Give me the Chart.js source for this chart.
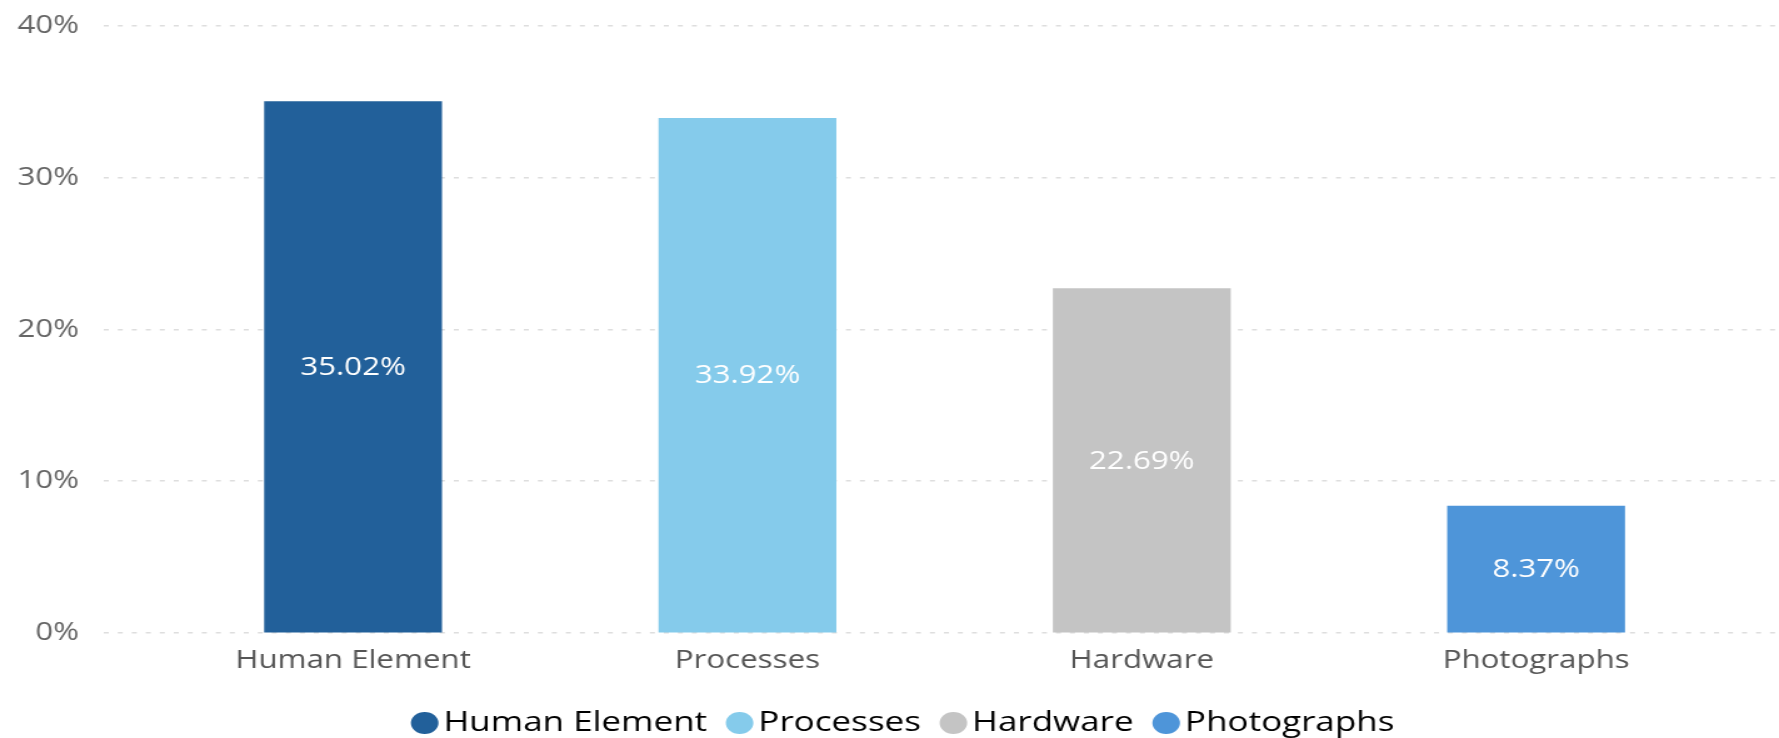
<!DOCTYPE html>
<html>
<head>
<meta charset="utf-8">
<script src="https://cdn.jsdelivr.net/npm/chart.js@4/dist/chart.umd.min.js"></script>
<style>
  html, body { margin: 0; padding: 0; background: #fff; overflow: hidden; }
  #wrap { width: 1423px; height: 738px; transform: scaleX(1.2502); transform-origin: 0 0; }
</style>
</head>
<body>
<div id="wrap"><canvas id="shareChart" width="1423" height="738"></canvas></div>
<script>
const categories = ['Human Element', 'Processes', 'Hardware', 'Photographs'];
const shares = [35.02, 33.92, 22.69, 8.37];
const barColors = ['#22609a', '#85cbeb', '#c4c4c4', '#4e95d9'];
const yMax = 40;
const yStep = 10;

document.addEventListener('DOMContentLoaded', function () {
    const ctx = document.getElementById('shareChart').getContext('2d');
    const fontFamily = "'Open Sans', 'Segoe UI', sans-serif";

    // values written inside each bar
    const barLabels = {
        id: 'barLabels',
        afterDatasetsDraw(chart) {
            const c = chart.ctx;
            const meta = chart.getDatasetMeta(0);
            c.save();
            c.font = '25px ' + fontFamily;
            c.fillStyle = '#ffffff';
            c.textAlign = 'center';
            c.textBaseline = 'middle';
            meta.data.forEach(function (bar, i) {
                c.fillText(shares[i].toFixed(2) + '%', bar.x, (bar.y + bar.base) / 2 + 1);
            });
            c.restore();
        }
    };

    // legend sits a little right of centre in the original
    const legendShift = {
        id: 'legendShift',
        afterLayout(chart) {
            chart.legend.left += 15.5;
            chart.legend.right += 15.5;
        }
    };

    new Chart(ctx, {
        type: 'bar',
        data: {
            datasets: [{
                label: 'Share',
                data: shares.map(function (v, i) { return { x: i, y: v }; }),
                backgroundColor: barColors,
                borderWidth: 0,
                barThickness: 141.6
            }]
        },
        options: {
            responsive: false,
            animation: false,
            layout: { padding: { top: 26, right: 0, bottom: -9, left: 0 } },
            plugins: {
                tooltip: { enabled: false },
                legend: {
                    position: 'bottom',
                    labels: {
                        usePointStyle: true,
                        pointStyle: 'circle',
                        boxWidth: 2,
                        boxHeight: 15.6,
                        padding: 25,
                        color: '#555555',
                        font: { family: fontFamily, size: 28 },
                        generateLabels: function () {
                            return categories.map(function (name, i) {
                                return {
                                    text: name,
                                    fillStyle: barColors[i],
                                    strokeStyle: barColors[i],
                                    lineWidth: 0,
                                    pointStyle: 'circle',
                                    hidden: false,
                                    datasetIndex: 0,
                                    index: i
                                };
                            });
                        }
                    }
                }
            },
            scales: {
                x: {
                    type: 'linear',
                    offset: false,
                    min: -0.6316,
                    max: 3.616,
                    grid: { display: false, drawTicks: false, offset: false },
                    border: { display: false },
                    afterFit: function (scale) { scale.height = 51; },
                    ticks: {
                        stepSize: 1,
                        includeBounds: false,
                        autoSkip: false,
                        maxRotation: 0,
                        padding: 13,
                        color: '#555555',
                        font: { family: fontFamily, size: 25 },
                        callback: function (value) {
                            return Number.isInteger(value) && categories[value] ? categories[value] : '';
                        }
                    }
                },
                y: {
                    min: 0,
                    max: yMax,
                    grid: {
                        color: '#dedede',
                        lineWidth: 1.6,
                        drawTicks: true,
                        tickLength: 20,
                        tickColor: 'rgba(0,0,0,0)'
                    },
                    border: { display: false, dash: [4, 7.2] },
                    afterFit: function (scale) { scale.width = 83.2; },
                    ticks: {
                        stepSize: yStep,
                        padding: 0,
                        color: '#666666',
                        font: { family: fontFamily, size: 25 },
                        callback: function (value) { return value + '%'; }
                    }
                }
            }
        },
        plugins: [barLabels, legendShift]
    });
});
</script>
</body>
</html>
